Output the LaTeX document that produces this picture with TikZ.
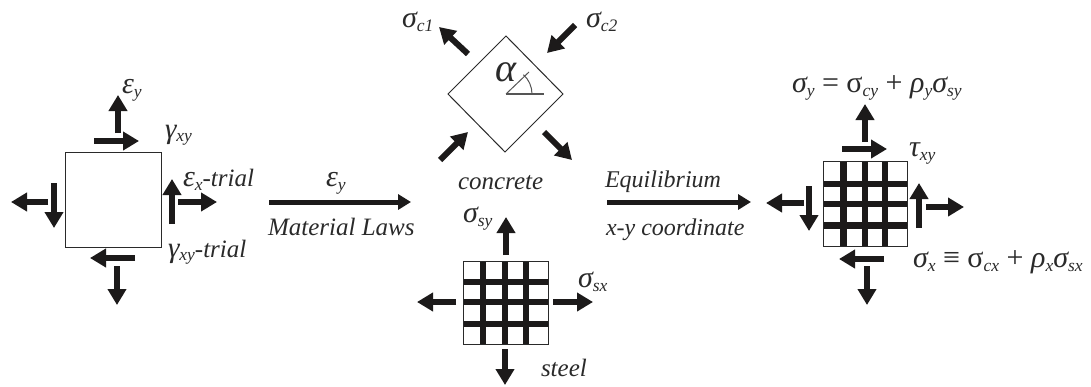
\documentclass[tikz,border=0pt]{standalone}
\usepackage{fontspec}
\setmainfont{Liberation Serif}
\usetikzlibrary{arrows.meta}
\definecolor{ink}{HTML}{1C1A1A}
\definecolor{inkt}{HTML}{2A2A2A}
\tikzset{
  farrow/.style={draw=ink,line width=6pt,-{Triangle[length=16pt,width=18pt]}},
  bigarrow/.style={draw=ink,line width=5pt,-{Triangle[length=13pt,width=15pt]}},
  outline/.style={draw=inkt,line width=1pt,fill=white,inner sep=0pt,outer sep=0pt,minimum size=0pt},
  lab/.style={anchor=base west,inner sep=0pt,outer sep=0pt,text=inkt,font=\fontsize{25}{28}\selectfont\itshape},
  narrowlab/.style={lab,font=\fontsize{24}{28}\selectfont\itshape},
  thin grey/.style={draw=inkt!80,line width=1pt},
  gridbar/.style={draw=ink}
}
\newcommand{\lbs}[1]{\raisebox{-0.3ex}{\fontsize{17.5}{19}\selectfont\itshape #1}}
\newcommand{\fa}[3]{\coordinate (#1s) at (#2); \coordinate (#1e) at (#3); \draw[farrow] (#1s) -- (#1e);}
\begin{document}
\begin{tikzpicture}[x=1pt,y=-1pt]
\useasboundingbox (0,0) rectangle (1091,386);
\fill[white] (0,0) rectangle (1091,386);
% left square
\node[outline,minimum width=96pt,minimum height=95pt] (leftbox) at (113,199.5) {};
\fa{la}{118,133}{118,95}
\fa{lb}{94,141}{139,141}
\fa{lc}{172,224}{172,179}
\fa{ld}{178,202}{217,202}
\fa{le}{48,202}{11,202}
\fa{lf}{54,183}{54,228}
\fa{lg}{135,258}{90,258}
\fa{lh}{117,266}{117,305}
\node[lab] (epsy) at (122,93) {\fontsize{30}{30}\selectfont ε\lbs{y}};
\node[lab] (gamxy) at (165,138) {\fontsize{29}{29}\selectfont γ\lbs{xy}};
\node[lab] (epsx) at (183,186) {\fontsize{30}{30}\selectfont ε\lbs{x}\fontsize{25}{28}\selectfont -trial};
\node[lab] (gamtr) at (168,257) {\fontsize{29}{29}\selectfont γ\lbs{xy}\fontsize{25}{28}\selectfont -trial};
% middle arrows
\coordinate (ma) at (269,202); \coordinate (mb) at (411,202);
\draw[bigarrow] (ma) -- (mb);
\coordinate (mc) at (607,202); \coordinate (md) at (751,202);
\draw[bigarrow] (mc) -- (md);
\node[lab] (midy) at (326,186) {\fontsize{30}{30}\selectfont ε\lbs{y}};
\node[lab] (matlaws) at (268,235) {Material Laws};
\node[narrowlab] (equil) at (605,187) {Equilibrium};
\node[narrowlab] (xycoord) at (606,235) {x-y coordinate};
% concrete
\coordinate (dt) at (506,36); \coordinate (dr) at (563,94);
\coordinate (db) at (505,152); \coordinate (dl) at (448,94);
\draw[draw=inkt,line width=1pt,line join=miter] (dt) -- (dr) -- (db) -- (dl) -- cycle;
\fa{ca}{468,54}{439,27}
\fa{cb}{575,25}{547,53}
\fa{cc}{440,160}{468,132}
\fa{cd}{544,132}{572,160}
\coordinate (ao) at (506,94); \coordinate (ab) at (544,94); \coordinate (ah) at (529,72);
\draw[thin grey,line width=1.7pt] (ao) -- (ab);
\draw[thin grey] (ao) -- (ah);
\draw[thin grey] (532,94) arc[start angle=0,end angle=-48,radius=26];
\node[lab] (alpha) at (495,81) {\fontsize{40}{40}\selectfont α};
\node[lab] (sc1) at (402,27) {\fontsize{30}{30}\selectfont σ\lbs{c1}};
\node[lab] (sc2) at (586,27) {\fontsize{30}{30}\selectfont σ\lbs{c2}};
\node[lab] (concrete) at (458,189) {concrete};
% steel grid
\node[outline,minimum width=85pt,minimum height=83pt] (steelbox) at (505.5,302.5) {};
\foreach \x/\w in {483/6,505/6,526/5.5}{\draw[gridbar,line width=\w pt] (\x,261) -- (\x,344);}
\foreach \y/\w in {282/5.5,302/6.5,324/5.5}{\draw[gridbar,line width=\w pt] (463,\y) -- (548,\y);}
\node[outline,minimum width=85pt,minimum height=83pt,fill=none] (steelframe) at (505.5,302.5) {};
\fa{sa}{506,255}{506,217}
\fa{sb}{456,302}{417,302}
\fa{sc}{553,302}{593,302}
\fa{sd}{505,349}{505,385}
\node[lab] (ssy) at (463,222) {\fontsize{30}{30}\selectfont σ\lbs{sy}};
\node[lab] (ssx) at (578,287) {\fontsize{30}{30}\selectfont σ\lbs{sx}};
\node[lab] (steel) at (541,376) {steel};
% right grid
\node[outline,minimum width=84pt,minimum height=85pt] (rightbox) at (865,203.5) {};
\foreach \x/\w in {843/7,865/6,885/6.5}{\draw[gridbar,line width=\w pt] (\x,161) -- (\x,246);}
\foreach \y/\w in {184/6,204/5.5,225/7}{\draw[gridbar,line width=\w pt] (823,\y) -- (907,\y);}
\node[outline,minimum width=84pt,minimum height=85pt,fill=none] (rightframe) at (865,203.5) {};
\fa{ra}{865,142}{865,104}
\fa{rb}{842,149}{887,149}
\fa{rc}{919,228}{919,183}
\fa{rd}{926,207}{964,207}
\fa{re}{804,203}{766,203}
\fa{rf}{809,186}{809,231}
\fa{rg}{884,259}{839,259}
\fa{rh}{867,266}{867,305}
\node[lab] (sigy) at (792,92) {\fontsize{30}{30}\selectfont σ\lbs{y}\upshape{} = σ\lbs{cy}\upshape{} + \itshape ρ\lbs{y}σ\lbs{sy}};
\node[lab] (tauxy) at (909,156) {\fontsize{30}{30}\selectfont τ\lbs{xy}};
\node[lab] (sigx) at (913,267) {\fontsize{30}{30}\selectfont σ\lbs{x}\upshape{} ≡ σ\lbs{cx}\upshape{} + \itshape ρ\lbs{x}σ\lbs{sx}};
\end{tikzpicture}
\end{document}
